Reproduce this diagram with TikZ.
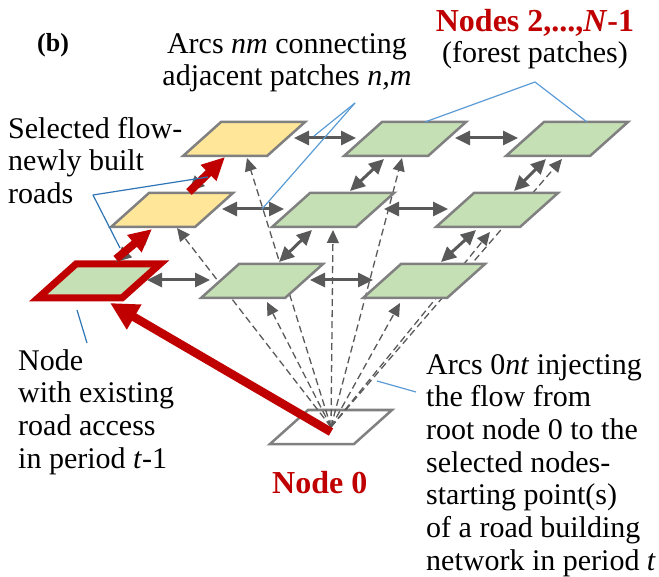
\documentclass[tikz,border=0pt]{standalone}
\usepackage{fontspec}
\setmainfont{Liberation Serif}
\usetikzlibrary{arrows.meta,calc}
\definecolor{pgreen}{HTML}{C5E0B4}
\definecolor{pyellow}{HTML}{FFE699}
\definecolor{pborder}{HTML}{808080}
\definecolor{darr}{HTML}{595959}
\definecolor{dred}{HTML}{C00000}
\definecolor{lblue}{HTML}{5B9BD5}
\definecolor{dblue}{HTML}{2E75B6}
\begin{document}
\begin{tikzpicture}[x=1pt,y=-1pt,
  patchshape/.style={line width=2.5pt, draw=pborder, line join=miter},
  greenpatch/.style={patchshape, fill=pgreen},
  yellowpatch/.style={patchshape, fill=pyellow},
  rootpatch/.style={patchshape, fill=white},
  roadpatch/.style={line width=7pt, draw=dred, fill=pgreen, line join=miter},
  linkarrow/.style={darr, line width=3pt, {Triangle[length=15pt,width=14pt]}-{Triangle[length=15pt,width=14pt]}},
  injectarrow/.style={darr, line width=1.3pt, dash pattern=on 7pt off 4pt, -{Triangle[length=13pt,width=12pt]}},
  roadarrow/.style={dred, line width=8pt, -{Triangle[length=23pt,width=21pt]}},
  accessarrow/.style={dred, line width=8.5pt, -{Triangle[length=28pt,width=27pt]}},
  leader/.style={lblue, line width=1.2pt},
  leaderdark/.style={dblue, line width=1.2pt},
  lbl/.style={font=\fontsize{30}{32.7}\selectfont, inner sep=0pt},
  redlbl/.style={font=\fontsize{32}{35}\selectfont\bfseries, text=dred, inner sep=0pt},
]
\useasboundingbox (0,0) rectangle (659,577);

% patch centres
\coordinate (p11) at (244,139);
\coordinate (p12) at (405,139);
\coordinate (p13) at (567,139);
\coordinate (p21) at (172,210);
\coordinate (p22) at (333,210);
\coordinate (p23) at (497,210);
\coordinate (p31) at (99,281);
\coordinate (p32) at (262,281);
\coordinate (p33) at (424,281);
\coordinate (p0)  at (331,427);

% root node 0
\draw[rootpatch, shift={(p0)}] (-61,17) -- (23,17) -- (61,-17) -- (-23,-17) -- cycle;

% arcs 0nt (dashed)
\draw[injectarrow] (p0) -- ($(p11)+(3,19)$);
\draw[injectarrow] (p0) -- ($(p12)+(-3,19)$);
\draw[injectarrow] (p0) -- ($(p13)+(-5,20)$);
\draw[injectarrow] (p0) -- ($(p21)+(5,18)$);
\draw[injectarrow] (p0) -- ($(p22)+(0,20)$);
\draw[injectarrow] (p0) -- ($(p23)+(-7,22)$);
\draw[injectarrow] (p0) -- ($(p32)+(5,21)$);
\draw[injectarrow] (p0) -- ($(p33)+(-24,22)$);

% patches
\draw[yellowpatch, shift={(p11)}] (-61,17) -- (23,17) -- (61,-17) -- (-23,-17) -- cycle;
\draw[greenpatch, shift={(p12)}] (-61,17) -- (23,17) -- (61,-17) -- (-23,-17) -- cycle;
\draw[greenpatch, shift={(p13)}] (-61,17) -- (23,17) -- (61,-17) -- (-23,-17) -- cycle;
\draw[yellowpatch, shift={(p21)}] (-61,17) -- (23,17) -- (61,-17) -- (-23,-17) -- cycle;
\draw[greenpatch, shift={(p22)}] (-61,17) -- (23,17) -- (61,-17) -- (-23,-17) -- cycle;
\draw[greenpatch, shift={(p23)}] (-61,17) -- (23,17) -- (61,-17) -- (-23,-17) -- cycle;
\draw[roadpatch, shift={(p31)}] (-61,17) -- (23,17) -- (61,-17) -- (-23,-17) -- cycle;
\draw[greenpatch, shift={(p32)}] (-61,17) -- (23,17) -- (61,-17) -- (-23,-17) -- cycle;
\draw[greenpatch, shift={(p33)}] (-61,17) -- (23,17) -- (61,-17) -- (-23,-17) -- cycle;

% arcs nm (adjacent patches)
\draw[linkarrow] ($(p11)+(50,-1)$) -- ($(p12)+(-49,-1)$);
\draw[linkarrow] ($(p12)+(50,-1)$) -- ($(p13)+(-49,-1)$);
\draw[linkarrow] ($(p21)+(50,-1)$) -- ($(p22)+(-49,-1)$);
\draw[linkarrow] ($(p22)+(51,-1)$) -- ($(p23)+(-49,-1)$);
\draw[linkarrow] ($(p31)+(48,-1)$) -- ($(p32)+(-52,-1)$);
\draw[linkarrow] ($(p32)+(48,-1)$) -- ($(p33)+(-51,-1)$);
\draw[linkarrow] ($(p11)+(-21,20)$) -- ($(p21)+(17,-19)$);
\draw[linkarrow] ($(p12)+(-21,20)$) -- ($(p22)+(17,-19)$);
\draw[linkarrow] ($(p13)+(-21,20)$) -- ($(p23)+(17,-19)$);
\draw[linkarrow] ($(p21)+(-21,20)$) -- ($(p31)+(17,-19)$);
\draw[linkarrow] ($(p22)+(-21,20)$) -- ($(p32)+(17,-19)$);
\draw[linkarrow] ($(p23)+(-21,20)$) -- ($(p33)+(17,-19)$);

% selected flow (red)
\draw[roadarrow] ($(p31)+(17,-22)$) -- ($(p21)+(-20,19)$);
\draw[roadarrow] ($(p21)+(17,-18)$) -- ($(p11)+(-19,18)$);
\draw[accessarrow] ($(p0)+(0,5)$) -- ($(p31)+(11,22)$);

% labels
\node[lbl, font=\fontsize{26}{29}\selectfont\bfseries, anchor=base west] (blabel) at (37,52) {(b)};
\node[lbl, anchor=north, align=center] (arcsnm) at (287,30.1) {\strut Arcs \textit{nm} connecting\\adjacent patches \textit{n,m}};
\node[redlbl, anchor=base] (nodesN) at (535,32) {Nodes 2,...,\textit{N}-1};
\node[lbl, anchor=base] (forest) at (535,63) {(forest patches)};
\node[lbl, anchor=north west, align=left] (selflow) at (8,115.1) {\strut Selected flow-\\newly built\\roads};
\node[lbl, anchor=north west, align=left] (existing) at (18,347.1) {\strut Node\\with existing\\road access\\in period \textit{t}-1};
\node[lbl, anchor=north west, align=left] (arcs0nt) at (426,351.1) {\strut Arcs 0\textit{nt} injecting\\the flow from\\root node 0 to the\\selected nodes-\\starting point(s)\\of a road building\\network in period \textit{t}};
\node[redlbl, anchor=base west] (node0) at (272,493) {Node 0};

% leader lines
\coordinate (cnm) at (355,103);
\draw[leader] (cnm) -- ($(p11)+(70,-3)$);
\draw[leader] (cnm) -- ($(p21)+(90,-1)$);
\coordinate (cnodes) at (535,82);
\draw[leader] (cnodes) -- ($(p12)+(20,-17)$);
\draw[leader] (cnodes) -- ($(p13)+(20,-17)$);
\coordinate (csel) at (93,195);
\draw[leaderdark] (csel) -- ($(p11)+(-36,38)$);
\draw[leaderdark] (csel) -- ($(p31)+(21,-33)$);
\coordinate (cexist) at (77,310);
\draw[leaderdark] (cexist) -- (87,343);
\coordinate (c0nt) at (377,381);
\draw[leader] (c0nt) -- (416,392);
\end{tikzpicture}
\end{document}
